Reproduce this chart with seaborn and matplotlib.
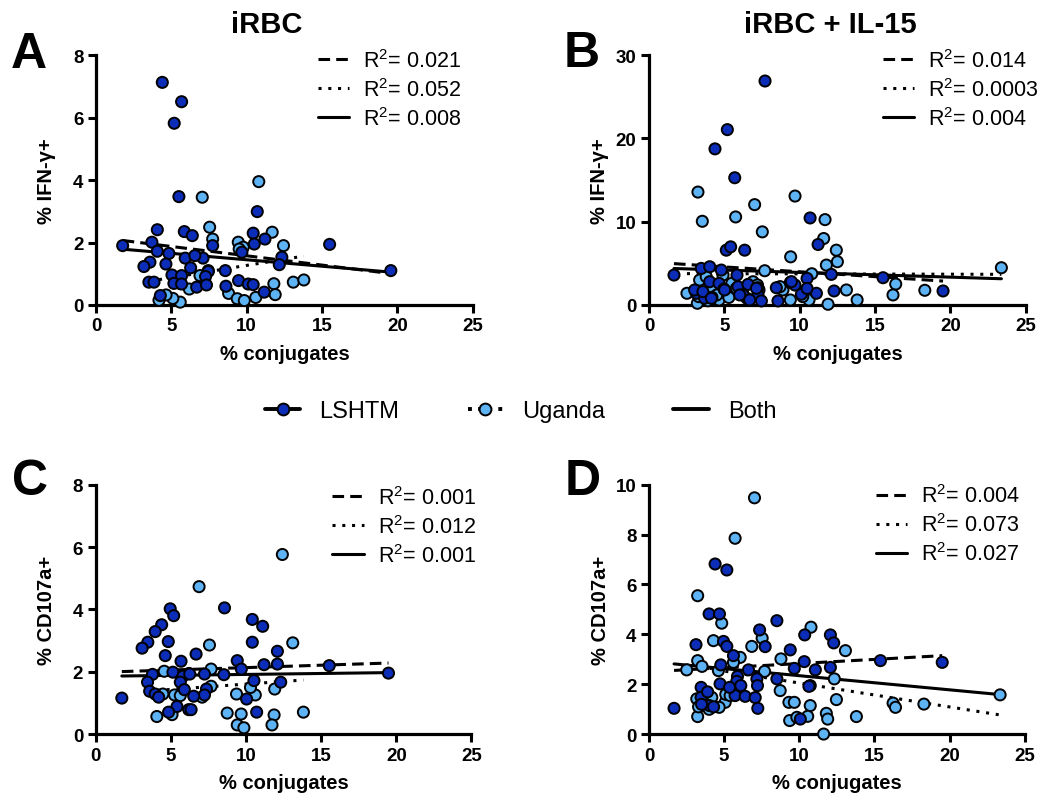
import seaborn as sns
import matplotlib.pyplot as plt
from matplotlib.lines import Line2D
import pandas as pd

# ---- data ----
# A: iRBC, % IFN-g+
a_lshtm_x = [4.40, 5.68, 5.19, 5.50, 10.70, 4.07, 5.86, 6.39, 10.43, 11.21, 10.50, 15.50, 1.77, 3.71, 4.07,
             4.84, 7.74, 9.68, 12.33, 12.16, 5.92, 7.10, 6.56, 4.64, 3.58, 3.18, 6.28, 7.45, 8.58, 5.04,
             5.68, 7.27, 5.17, 5.68, 6.68, 7.33, 8.62, 9.46, 10.10, 10.43, 3.51, 3.85, 11.16, 4.27, 19.56]
a_lshtm_y = [7.13, 6.51, 5.82, 3.47, 2.99, 2.41, 2.35, 2.22, 2.30, 2.11, 1.95, 1.94, 1.90, 2.01, 1.72,
             1.65, 1.90, 1.69, 1.53, 1.29, 1.50, 1.50, 1.58, 1.31, 1.37, 1.23, 1.19, 1.07, 1.10, 0.96,
             0.94, 0.91, 0.69, 0.67, 0.57, 0.64, 0.60, 0.78, 0.67, 0.65, 0.73, 0.73, 0.41, 0.30, 1.10]
a_ug_x = [10.80, 7.05, 7.54, 11.69, 7.74, 9.44, 12.44, 9.77, 6.90, 7.45, 13.09, 13.79, 11.80, 11.89, 10.60,
          8.80, 9.37, 9.84, 6.19, 5.59, 5.10, 4.65, 4.18, 5.57, 9.50]
a_ug_y = [3.95, 3.45, 2.49, 2.33, 2.11, 2.01, 1.90, 1.85, 0.94, 1.10, 0.73, 0.80, 0.68, 0.33, 0.24,
          0.37, 0.20, 0.14, 0.51, 0.09, 0.21, 0.32, 0.15, 0.69, 1.79]
a_r2 = ["0.021", "0.052", "0.008"]

# B: iRBC + IL-15, % IFN-g+
b_lshtm_x = [7.70, 5.20, 4.38, 5.69, 10.69, 11.22, 5.13, 5.42, 6.35, 1.66, 3.47, 4.03, 4.80, 5.84, 12.10,
             10.49, 15.53, 19.51, 12.28, 11.11, 8.45, 9.38, 9.69, 10.11, 10.49, 3.14, 4.03, 4.65, 4.98, 5.91,
             6.57, 7.23, 7.23, 6.24, 6.68, 8.56, 4.18, 3.69, 7.46, 3.03, 3.58, 4.14, 5.02, 6.02, 7.13, 9.45]
b_lshtm_y = [26.9, 21.06, 18.75, 15.28, 10.45, 7.26, 6.58, 6.98, 6.58, 3.59, 4.39, 4.59, 4.19, 3.59, 3.67,
             3.19, 3.27, 1.68, 1.68, 1.40, 2.07, 2.71, 2.39, 1.28, 1.99, 1.40, 2.79, 2.59, 1.91, 2.19,
             2.47, 2.07, 1.20, 1.20, 0.60, 0.48, 0.92, 0.80, 0.48, 1.80, 1.60, 0.80, 1.80, 1.20, 2.00, 2.80]
b_ug_x = [3.25, 3.54, 5.75, 7.01, 7.52, 9.69, 11.68, 11.59, 12.43, 12.50, 11.77, 9.40, 10.80, 7.68, 23.38,
          16.37, 16.19, 18.30, 13.10, 13.81, 11.88, 10.62, 9.38, 2.52, 3.21, 4.65, 5.13, 3.36, 3.80, 4.91,
          6.90, 8.89, 5.50, 10.20, 7.20, 3.30, 3.90, 4.20, 4.50, 5.30, 5.80, 6.20, 6.50, 7.30, 8.70]
b_ug_y = [13.56, 10.05, 10.57, 12.05, 8.78, 13.08, 10.25, 7.98, 6.58, 5.19, 4.79, 5.78, 3.75, 4.11, 4.47,
          2.51, 1.20, 1.76, 1.80, 0.60, 0.08, 0.60, 0.60, 1.40, 0.20, 0.60, 1.40, 2.99, 3.39, 3.59,
          2.79, 1.80, 2.60, 1.00, 2.40, 1.00, 0.50, 2.00, 1.20, 0.90, 2.00, 1.50, 0.80, 1.80, 2.20]
b_r2 = ["0.014", "0.0003", "0.004"]

# C: iRBC, % CD107a+
c_lshtm_x = [8.57, 4.96, 5.19, 4.39, 3.96, 3.47, 3.09, 4.83, 4.63, 5.68, 6.68, 10.42, 11.11, 10.42, 12.09,
             9.42, 9.69, 11.20, 12.09, 15.54, 19.48, 1.74, 3.78, 3.45, 3.59, 3.96, 4.19, 5.14, 5.81, 5.63,
             5.90, 6.26, 7.24, 7.37, 7.24, 6.52, 8.53, 10.53, 10.04, 12.31, 5.41, 6.19, 6.35, 10.71, 4.85]
c_lshtm_y = [4.05, 4.02, 3.80, 3.51, 3.29, 2.95, 2.76, 2.97, 2.52, 2.34, 2.57, 3.68, 3.46, 2.95, 2.66,
             2.36, 2.09, 2.23, 2.25, 2.20, 1.96, 1.16, 1.92, 1.67, 1.38, 1.29, 1.19, 1.99, 1.86, 1.67,
             1.43, 1.93, 1.93, 1.45, 1.26, 1.22, 1.91, 1.72, 1.13, 1.67, 0.89, 0.79, 0.79, 0.71, 0.71]
c_ug_x = [12.42, 6.88, 7.57, 13.11, 7.68, 4.56, 5.25, 5.63, 7.08, 9.37, 10.62, 11.91, 4.07, 5.08, 8.75,
          9.68, 11.87, 13.82, 9.42, 9.86, 11.73, 7.68, 4.47, 6.20, 10.30]
c_ug_y = [5.76, 4.73, 2.86, 2.93, 2.09, 2.02, 1.26, 1.24, 1.19, 1.29, 1.26, 1.45, 0.57, 0.63, 0.68,
          0.65, 0.62, 0.71, 0.30, 0.21, 0.30, 1.54, 1.29, 1.95, 1.50]
c_r2 = ["0.001", "0.012", "0.001"]

# D: iRBC + IL-15, % CD107a+
d_lshtm_x = [4.40, 5.18, 4.00, 4.69, 8.51, 7.36, 7.73, 3.13, 4.96, 5.18, 5.62, 4.78, 9.40, 10.36, 12.07,
             12.29, 6.62, 5.89, 5.84, 6.11, 5.73, 6.40, 7.18, 7.22, 7.07, 7.24, 8.51, 9.67, 10.33, 10.64,
             11.07, 12.07, 15.40, 19.51, 1.67, 3.47, 3.47, 4.02, 4.73, 10.07, 5.36, 3.50, 3.90, 4.30]
d_lshtm_y = [6.82, 6.58, 4.82, 4.82, 4.55, 4.18, 3.51, 3.59, 3.72, 3.52, 3.15, 2.78, 3.38, 3.98, 3.98,
             3.66, 2.58, 2.32, 2.12, 1.95, 1.55, 1.52, 2.22, 1.95, 1.47, 1.04, 2.22, 2.64, 2.91, 1.92,
             2.58, 2.68, 2.95, 2.88, 1.04, 1.88, 1.48, 1.15, 2.02, 0.61, 1.88, 1.20, 1.70, 1.10]
d_ug_x = [7.02, 5.73, 3.24, 4.84, 4.29, 7.53, 6.84, 6.07, 8.78, 10.78, 13.07, 3.24, 3.53, 2.51, 4.62,
          7.69, 12.33, 23.36, 16.24, 18.29, 16.40, 12.47, 10.73, 8.73, 9.31, 9.67, 9.36, 9.84, 10.56, 11.80,
          11.89, 13.80, 11.62, 3.24, 3.18, 4.18, 5.07, 5.11, 4.67, 5.40, 3.73, 5.62, 10.73, 3.30, 3.60, 4.00]
d_ug_y = [9.47, 7.85, 5.55, 4.45, 3.75, 3.85, 3.52, 3.08, 3.02, 4.29, 3.35, 2.95, 2.72, 2.58, 2.55,
          2.52, 2.22, 1.58, 1.25, 1.21, 1.08, 1.39, 1.15, 1.75, 1.28, 1.28, 0.55, 0.68, 0.72, 0.84,
          0.61, 0.71, 0.01, 0.71, 1.42, 1.48, 1.28, 1.60, 1.08, 1.55, 1.15, 2.88, 1.95, 1.10, 1.30, 1.00]
d_r2 = ["0.004", "0.073", "0.027"]

x_ticks = [0, 5, 10, 15, 20, 25]

dark = '#0B2DB8'
light = '#5DB3F4'
dash_ls = (0, (3.8, 2.0))
dot_ls = (0, (1.0, 2.2))

sns.set_style("ticks")
plt.rcParams['font.family'] = ['Liberation Sans', 'DejaVu Sans']
plt.rcParams['mathtext.fontset'] = 'custom'
plt.rcParams['mathtext.rm'] = 'Liberation Sans'
plt.rcParams['mathtext.it'] = 'Liberation Sans:italic'
plt.rcParams['mathtext.bf'] = 'Liberation Sans:bold'
for key in ['text.color', 'axes.labelcolor', 'xtick.color', 'ytick.color', 'axes.edgecolor']:
    plt.rcParams[key] = 'black'

fig = plt.figure(figsize=(10.41, 8.03), dpi=100)


def panel(rect, lx, ly, ux, uy, r2, ylim, yticks, ylabel, leg_xy, title=None, title_x=0.5):
    ax = fig.add_axes(rect)
    df = pd.DataFrame({
        'x': ux + lx,
        'y': uy + ly,
        'site': ['Uganda'] * len(ux) + ['LSHTM'] * len(lx),
    })
    lw = 2.2
    sns.regplot(data=df[df.site == 'LSHTM'], x='x', y='y', scatter=False, ci=None, ax=ax,
                line_kws=dict(color='k', lw=lw, ls=dash_ls, zorder=2))
    sns.regplot(data=df[df.site == 'Uganda'], x='x', y='y', scatter=False, ci=None, ax=ax,
                line_kws=dict(color='k', lw=lw, ls=dot_ls, zorder=2))
    sns.regplot(data=df, x='x', y='y', scatter=False, ci=None, ax=ax,
                line_kws=dict(color='k', lw=lw, ls='-', zorder=2))
    sns.scatterplot(data=df, x='x', y='y', hue='site', palette={'LSHTM': dark, 'Uganda': light},
                    s=64, edgecolor='k', linewidth=1.4, legend=False, ax=ax, zorder=3, clip_on=False)

    ax.set_xlim(0, 25)
    ax.set_ylim(*ylim)
    ax.set_xticks(x_ticks)
    ax.set_yticks(yticks)
    sns.despine(ax=ax)
    for sp in ['left', 'bottom']:
        ax.spines[sp].set_linewidth(2.3)
    ax.tick_params(width=2.2, length=6, labelsize=13.5, pad=3)
    for lab in ax.get_xticklabels() + ax.get_yticklabels():
        lab.set_fontweight('bold')
    ax.set_xlabel('% conjugates', fontsize=14.5, fontweight='bold')
    ax.set_ylabel(ylabel, fontsize=14.5, fontweight='bold')
    ax.xaxis.set_label_coords(0.5, -0.155)
    ax.yaxis.set_label_coords(-0.105, 0.5)

    handles = [Line2D([], [], color='k', lw=lw, ls=dash_ls),
               Line2D([], [], color='k', lw=lw, ls=dot_ls),
               Line2D([], [], color='k', lw=lw, ls='-')]
    labels = [r'R$^{2}$= ' + v for v in r2]
    ax.legend(handles, labels, loc='upper left', bbox_to_anchor=leg_xy, frameon=False,
              fontsize=15.5, handlelength=1.45, handletextpad=0.65, labelspacing=0.28,
              borderpad=0, borderaxespad=0)
    if title:
        ax.text(title_x, 1.092, title, transform=ax.transAxes, ha='center', va='baseline',
                fontsize=21, fontweight='bold')
    return ax


panel([0.0922, 0.619, 0.362, 0.311], a_lshtm_x, a_lshtm_y, a_ug_x, a_ug_y, a_r2,
      (0, 8), [0, 2, 4, 6, 8], '% IFN-γ+', (0.589, 1.025), title='iRBC', title_x=0.454)
panel([0.6234, 0.619, 0.362, 0.311], b_lshtm_x, b_lshtm_y, b_ug_x, b_ug_y, b_r2,
      (0, 30), [0, 10, 20, 30], '% IFN-γ+', (0.62, 1.025), title='iRBC + IL-15', title_x=0.48)
panel([0.0919, 0.0843, 0.361, 0.311], c_lshtm_x, c_lshtm_y, c_ug_x, c_ug_y, c_r2,
      (0, 8), [0, 2, 4, 6, 8], '% CD107a+', (0.63, 0.995))
panel([0.6234, 0.0843, 0.361, 0.311], d_lshtm_x, d_lshtm_y, d_ug_x, d_ug_y, d_r2,
      (0, 10), [0, 2, 4, 6, 8, 10], '% CD107a+', (0.603, 1.0))

for letter, (fx, fy) in {'A': (0.010, 0.915), 'B': (0.541, 0.916),
                         'C': (0.012, 0.3836), 'D': (0.5427, 0.3836)}.items():
    fig.text(fx, fy, letter, fontsize=36, fontweight='bold', va='baseline', ha='left')

site_handles = [
    Line2D([], [], color='k', lw=2.8, ls='-', marker='o', ms=8.5, mfc=dark, mec='k', mew=1.4),
    Line2D([], [], color='k', lw=2.8, ls=(0, (1.0, 1.6)), marker='o', ms=8.5, mfc=light, mec='k', mew=1.4),
    Line2D([], [], color='k', lw=2.8, ls='-'),
]
fig.legend(site_handles, ['LSHTM', 'Uganda', 'Both'], loc='center', bbox_to_anchor=(0.5, 1 - 412 / 803),
           ncol=3, frameon=False, fontsize=17, handlelength=1.5, handletextpad=0.8, columnspacing=2.9)

fig.savefig('out.png', dpi=100)
